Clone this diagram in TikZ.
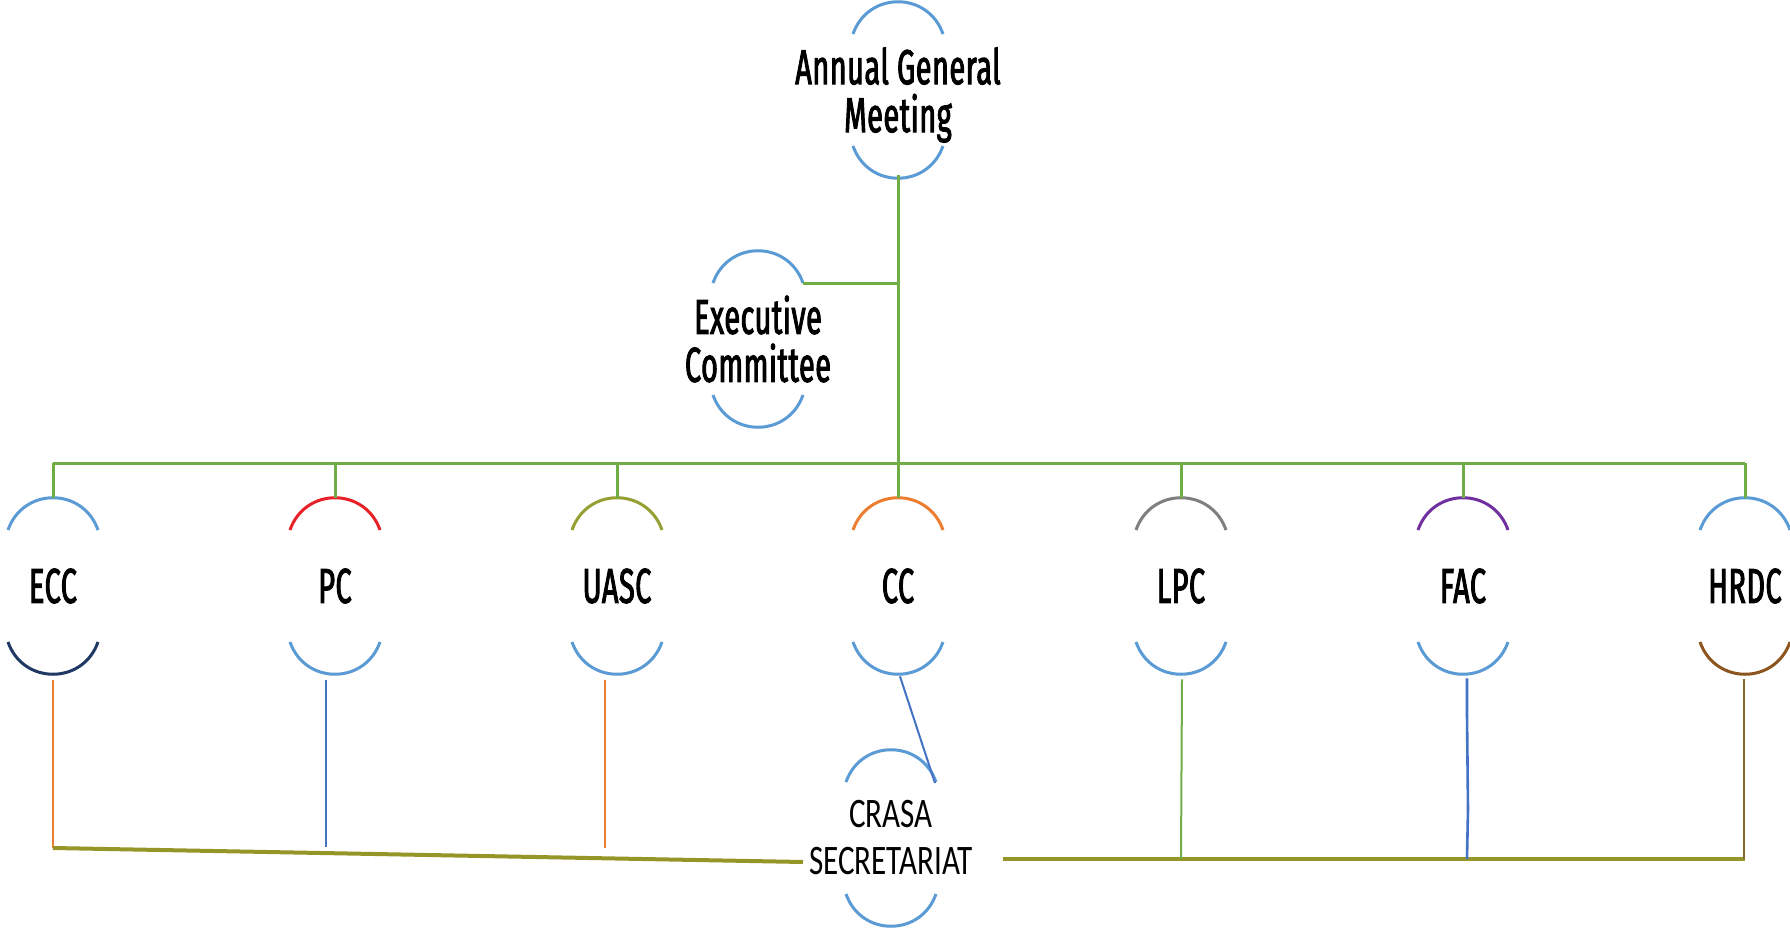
\documentclass[tikz,border=0pt]{standalone}
\usepackage{fontspec}
\usetikzlibrary{shapes.geometric,calc}
\newfontfamily\lblfont{Fira Sans}[FakeStretch=0.59,FakeBold=1.9,LetterSpace=1]
\newfontfamily\secfont{Carlito}[FakeStretch=0.74]
\definecolor{arcblue}{RGB}{91,155,213}
\definecolor{lgreen}{RGB}{112,173,71}
\definecolor{arcred}{RGB}{232,32,40}
\definecolor{arcolive}{RGB}{150,160,50}
\definecolor{arcorange}{RGB}{237,125,49}
\definecolor{arcgray}{RGB}{127,127,127}
\definecolor{arcpurple}{RGB}{112,48,160}
\definecolor{arcnavy}{RGB}{31,56,100}
\definecolor{arcbrown}{RGB}{140,85,30}
\definecolor{hrdcline}{RGB}{130,105,45}
\definecolor{botolive}{RGB}{150,150,40}
\definecolor{pcblue}{RGB}{68,114,196}
% #1 node, #2 top colour, #3 bottom colour, #4 vertical offset of the arcs from the node centre
\newcommand\bubarcs[4]{%
  \begin{scope}[shift={($(#1.center)+(0,#4)$)}]
    \draw[arcline,#2] (-45,-56) .. controls (-30,-99) and (30,-99) .. (45,-56);
    \draw[arcline,#3] (-45,56) .. controls (-30,99) and (30,99) .. (45,56);
  \end{scope}}
\begin{document}
\begin{tikzpicture}[x=0.5pt,y=-0.5pt,
  bub/.style={ellipse,minimum width=60pt,minimum height=88pt,inner sep=0pt,
    align=center,font=\lblfont\fontsize{24.5}{24}\selectfont},
  secbub/.style={ellipse,minimum width=60pt,minimum height=88pt,inner sep=0pt,
    align=center,font=\secfont\fontsize{21}{23.5}\selectfont},
  arcline/.style={line width=1.5pt},
  gline/.style={lgreen,line width=1.5pt},
  thinline/.style={line width=1pt},
  oline/.style={botolive,line width=2pt}]
\useasboundingbox (0,0) rectangle (1790,931);
\fill[white] (0,0) rectangle (1790,931);

\node[bub,minimum height=80pt] (agm) at (898,95) {Annual General\\Meeting};
\node[bub] (exec) at (758,339) {Executive\\Committee};
\node[bub] (ecc) at (53,586) {ECC};
\node[bub] (pc) at (335,586) {PC};
\node[bub] (uasc) at (617,586) {UASC};
\node[bub] (cc) at (898,586) {CC};
\node[bub] (lpc) at (1181,586) {LPC};
\node[bub] (fac) at (1463,586) {FAC};
\node[bub] (hrdc) at (1745,586) {HRDC};
\node[secbub] (crasa) at (891,838) {CRASA\\SECRETARIAT};

\bubarcs{agm}{arcblue}{arcblue}{-5}
\bubarcs{exec}{arcblue}{arcblue}{0}
\bubarcs{ecc}{arcblue}{arcnavy}{0}
\bubarcs{pc}{arcred}{arcblue}{0}
\bubarcs{uasc}{arcolive}{arcblue}{0}
\bubarcs{cc}{arcorange}{arcblue}{0}
\bubarcs{lpc}{arcgray}{arcblue}{0}
\bubarcs{fac}{arcpurple}{arcblue}{0}
\bubarcs{hrdc}{arcblue}{arcbrown}{0}
\bubarcs{crasa}{arcblue}{arcblue}{0}

% top tree
\coordinate (bus) at (0,463);
\draw[gline] (agm.south) -- (cc.north);
\draw[gline] (ecc.north |- bus) -- (hrdc.north |- bus);
\foreach \n in {ecc,pc,uasc,lpc,fac,hrdc}
  \draw[gline] (\n.north |- bus) -- (\n.north);
\coordinate (execr) at ($(exec.center)+(45,-56)$);
\draw[gline] (execr) -- (execr -| agm.south);

% bottom connections
\coordinate (sl) at (53,848);
\coordinate (rb) at (0,859);
\coordinate (crl) at ($(crasa.center)+(-88,24)$);
\coordinate (crr) at ($(crasa.center)+(112,21)$);
\coordinate (crt) at ($(crasa.center)+(44,-55)$);
\draw[thinline,arcorange] ($(ecc.south)+(0,6)$) -- (sl);
\draw[thinline,pcblue] ($(pc.south)+(-9,6)$) -- ++(0,167);
\draw[thinline,arcorange] ($(uasc.south)+(-12,6)$) -- ++(0,168);
\draw[thinline,pcblue] ($(cc.south)+(2,2)$) -- (crt);
\draw[oline] (sl) -- (crl);
\draw[oline] (crr) -- (hrdc.south |- rb);
\draw[thinline,lgreen] ($(lpc.south)+(1,5)$) -- (lpc.south |- rb);
\draw[pcblue,line width=1.3pt] ($(fac.south)+(4,4)$) -- ($(fac.south)+(4,40)$)
  -- ($(fac.south)+(5,135)$) -- ($(fac.south |- rb)+(4,0)$);
\draw[thinline,hrdcline] ($(hrdc.south)+(-1,5)$) -- ($(hrdc.south |- rb)+(-1,0)$);
\end{tikzpicture}
\end{document}
